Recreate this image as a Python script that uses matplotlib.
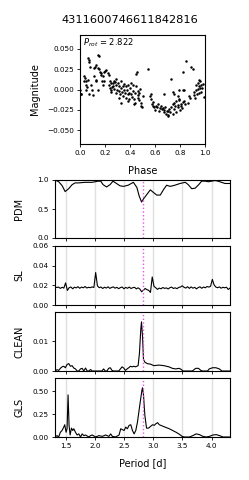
import numpy as np
import matplotlib
matplotlib.use("Agg")
import matplotlib.pyplot as plt

plt.rcParams['font.family'] = ['DejaVu Sans']

title = "4311600746611842816"
p_rot = 2.822

# ---- phase-folded light curve ----
phase = [0.00, 0.005, 0.01, 0.03, 0.035, 0.04, 0.045, 0.05, 0.055, 0.07, 0.06, 0.07, 0.075, 0.08, 0.09, 0.095, 0.10, 0.05, 0.065,
         0.11, 0.12, 0.13, 0.14, 0.155, 0.15, 0.16, 0.17, 0.165, 0.14, 0.125, 0.13, 0.115, 0.18, 0.185, 0.19, 0.20, 0.21, 0.195, 0.145, 0.175,
         0.22, 0.23, 0.235, 0.24, 0.25, 0.255, 0.26, 0.27, 0.28, 0.285, 0.29, 0.295, 0.30, 0.29, 0.27, 0.26, 0.24, 0.25, 0.245,
         0.31, 0.315, 0.32, 0.325, 0.33, 0.335, 0.34, 0.345, 0.35, 0.355, 0.36, 0.365, 0.37, 0.375, 0.38, 0.385, 0.39, 0.395, 0.40, 0.405, 0.31, 0.33, 0.38,
         0.41, 0.415, 0.42, 0.425, 0.43, 0.435, 0.44, 0.445, 0.45, 0.455, 0.46, 0.465, 0.47, 0.475, 0.48, 0.485, 0.49, 0.495, 0.54, 0.50, 0.44, 0.46,
         0.56, 0.565, 0.575, 0.58, 0.585, 0.59, 0.60, 0.61, 0.615, 0.62, 0.63, 0.64, 0.57,
         0.65, 0.655, 0.66, 0.67, 0.675, 0.68, 0.69, 0.695, 0.70, 0.705, 0.71, 0.67, 0.70,
         0.72, 0.725, 0.73, 0.74, 0.745, 0.75, 0.755, 0.76, 0.765, 0.77, 0.78, 0.785, 0.79, 0.795, 0.80, 0.74, 0.75, 0.78, 0.79,
         0.805, 0.81, 0.815, 0.82, 0.825, 0.83, 0.835, 0.84, 0.85, 0.86, 0.87, 0.88, 0.89, 0.90, 0.82,
         0.91, 0.915, 0.92, 0.925, 0.93, 0.935, 0.94, 0.945, 0.95, 0.955, 0.96, 0.965, 0.97, 0.975, 0.98, 0.99, 0.95, 0.96]
mag = [-0.001, -0.006, -0.006, 0.011, 0.016, 0.014, 0.010, 0.006, 0.003, -0.005, 0.039, 0.036, 0.034, 0.028, 0.005, 0.000, -0.007, -0.001, 0.012,
       0.027, 0.028, 0.030, 0.042, 0.041, 0.025, 0.022, 0.020, 0.018, 0.026, 0.010, 0.012, 0.016, 0.016, 0.006, 0.022, 0.023, 0.024, 0.011, 0.000, 0.010,
       0.020, 0.018, 0.005, 0.010, 0.008, 0.003, 0.004, 0.001, 0.009, -0.004, 0.006, 0.000, 0.008, 0.013, 0.010, 0.008, 0.002, 0.000, -0.003,
       -0.002, 0.004, -0.006, 0.002, 0.010, -0.003, 0.004, -0.008, 0.007, -0.001, -0.004, 0.004, -0.010, 0.000, 0.005, -0.006, -0.004, -0.012, 0.002, 0.008, -0.010, -0.017, -0.014,
       -0.006, -0.009, 0.006, -0.002, -0.012, -0.018, -0.004, 0.004, 0.019, 0.022, -0.010, -0.007, -0.013, -0.004, 0.001, -0.017, -0.020, -0.022, 0.025, -0.008, -0.016, -0.002,
       -0.008, -0.012, -0.018, -0.015, -0.020, -0.022, -0.025, -0.020, -0.022, -0.018, -0.027, -0.023, -0.005,
       -0.020, -0.024, -0.023, -0.025, -0.028, -0.022, -0.030, -0.026, -0.032, -0.027, -0.024, -0.005, -0.031,
       -0.028, 0.013, -0.022, -0.030, -0.018, -0.024, -0.016, -0.020, -0.028, -0.014, -0.022, -0.019, -0.013, -0.012, -0.025, -0.003, -0.005, -0.008, 0.000,
       -0.020, -0.018, -0.023, -0.015, 0.021, -0.001, -0.014, -0.018, 0.035, -0.017, -0.008, -0.011, 0.028, 0.025, 0.000,
       -0.007, -0.003, -0.010, 0.000, 0.005, -0.006, 0.008, 0.001, 0.012, 0.004, 0.010, 0.006, -0.003, 0.002, 0.007, -0.009, -0.004, 0.002]

# ---- PDM ----
pdm_period = [1.316, 1.38, 1.44, 1.49, 1.55, 1.61, 1.66, 1.72, 1.83, 1.95, 2.06, 2.10, 2.14, 2.20, 2.26, 2.31, 2.37, 2.43, 2.49,
              2.57, 2.66, 2.72, 2.76, 2.80, 2.83, 2.89, 2.95, 3.01, 3.06, 3.12, 3.18, 3.23, 3.29, 3.37, 3.46, 3.55, 3.60, 3.66,
              3.72, 3.78, 3.83, 3.89, 3.95, 4.00, 4.06, 4.11, 4.17, 4.23, 4.316]
pdm_theta = [1.00, 0.97, 0.90, 0.80, 0.85, 0.92, 0.95, 0.95, 0.96, 0.96, 0.98, 0.98, 0.92, 0.88, 0.92, 0.98, 0.94, 0.90, 0.89,
             0.91, 0.96, 0.87, 0.72, 0.62, 0.67, 0.75, 0.83, 0.78, 0.74, 0.74, 0.84, 0.91, 0.89, 0.91, 0.94, 0.96, 0.92, 0.85,
             0.86, 0.92, 0.98, 0.98, 0.97, 0.98, 0.99, 0.98, 0.96, 0.94, 0.94]

# ---- SL (string length) ----
sl_period = np.linspace(1.316, 4.316, 100)
sl_value = [0.0185, 0.0178, 0.0182, 0.0169, 0.0180, 0.0172, 0.0225, 0.0148, 0.0176, 0.0183,
            0.0165, 0.0181, 0.0174, 0.0186, 0.0170, 0.0182, 0.0175, 0.0188, 0.0173, 0.0180,
            0.0176, 0.0184, 0.0178, 0.0330, 0.0195, 0.0176, 0.0183, 0.0168, 0.0181, 0.0172,
            0.0185, 0.0169, 0.0178, 0.0184, 0.0171, 0.0180, 0.0166, 0.0177, 0.0183, 0.0165,
            0.0179, 0.0170, 0.0182, 0.0168, 0.0176, 0.0180, 0.0164, 0.0175, 0.0162, 0.0135,
            0.0150, 0.0168, 0.0156, 0.0149, 0.0128, 0.0285, 0.0190, 0.0175, 0.0159, 0.0172,
            0.0165, 0.0178, 0.0169, 0.0174, 0.0163, 0.0176, 0.0182, 0.0168, 0.0175, 0.0166,
            0.0179, 0.0183, 0.0195, 0.0180, 0.0172, 0.0186, 0.0169, 0.0184, 0.0171, 0.0180,
            0.0164, 0.0177, 0.0185, 0.0170, 0.0183, 0.0175, 0.0188, 0.0182, 0.0190, 0.0260,
            0.0205, 0.0182, 0.0176, 0.0184, 0.0171, 0.0180, 0.0175, 0.0181, 0.0158, 0.0172]

# ---- CLEAN ----
clean_period = [1.316, 1.351, 1.379, 1.408, 1.437, 1.466, 1.494, 1.523, 1.552, 1.580, 1.609, 1.638, 1.667, 1.695, 1.724, 1.753,
                1.782, 1.810, 1.839, 1.868, 1.897, 1.925, 1.954, 2.120, 2.149, 2.178, 2.207, 2.236, 2.264, 2.293, 2.322, 2.408,
                2.437, 2.466, 2.494, 2.523, 2.552, 2.580, 2.609, 2.638, 2.667, 2.695, 2.741, 2.764, 2.787, 2.799, 2.816, 2.833,
                2.856, 2.897, 2.954, 3.011, 3.098, 3.184, 3.270, 3.328, 3.385, 3.443, 3.483, 3.511, 3.672, 3.701, 3.730, 3.776,
                3.816, 3.845, 3.931, 3.960, 4.017, 4.075, 4.132, 4.178, 4.316]
clean_power = [0.0, 0.00045, 0.0002, 0.0009, 0.0014, 0.0016, 0.0011, 0.0022, 0.0025, 0.0016, 0.0018, 0.0010, 0.0007, 0.0, 0.0, 0.0007,
               0.0009, 0.0, 0.0010, 0.0, 0.0, 0.0005, 0.0, 0.0, 0.0007, 0.0, 0.0, 0.0009, 0.0011, 0.0002, 0.0, 0.0,
               0.0007, 0.0014, 0.0010, 0.0002, 0.0007, 0.0011, 0.0016, 0.0014, 0.0016, 0.0014, 0.0018, 0.0061, 0.0142, 0.0166, 0.0118, 0.0039,
               0.0030, 0.0025, 0.0023, 0.0018, 0.0020, 0.0018, 0.0014, 0.0009, 0.0007, 0.0009, 0.0005, 0.0, 0.0, 0.0005, 0.0009, 0.0009,
               0.0002, 0.0, 0.0, 0.0007, 0.0011, 0.0011, 0.0007, 0.0, 0.0]

# ---- GLS ----
gls_period = [1.316, 1.351, 1.379, 1.408, 1.437, 1.466, 1.483, 1.506, 1.523, 1.540, 1.557, 1.575, 1.598, 1.621, 1.638, 1.667,
              1.695, 1.724, 1.753, 1.782, 1.810, 1.839, 1.897, 1.925, 1.954, 2.011, 2.069, 2.126, 2.184, 2.241, 2.270, 2.299,
              2.356, 2.414, 2.443, 2.500, 2.529, 2.557, 2.586, 2.615, 2.644, 2.672, 2.701, 2.730, 2.770, 2.805, 2.816, 2.833,
              2.856, 2.885, 2.920, 2.960, 2.989, 3.017, 3.046, 3.075, 3.103, 3.161, 3.218, 3.276, 3.333, 3.391, 3.448, 3.494,
              3.534, 3.621, 3.678, 3.736, 3.793, 3.851, 3.908, 3.966, 4.023, 4.080, 4.138, 4.195, 4.316]
gls_power = [0.0, 0.015, 0.0, 0.052, 0.071, 0.108, 0.134, 0.052, 0.090, 0.460, 0.127, 0.022, 0.097, 0.071, 0.090, 0.052,
             0.022, 0.034, 0.0, 0.034, 0.015, 0.022, 0.0, 0.015, 0.022, 0.0, 0.015, 0.007, 0.022, 0.007, 0.034, 0.007,
             0.0, 0.022, 0.090, 0.071, 0.108, 0.090, 0.127, 0.134, 0.071, 0.034, 0.071, 0.164, 0.350, 0.507, 0.537, 0.460,
             0.239, 0.097, 0.097, 0.119, 0.134, 0.127, 0.145, 0.157, 0.134, 0.119, 0.104, 0.090, 0.071, 0.052, 0.030, 0.007,
             0.0, 0.0, 0.015, 0.034, 0.026, 0.007, 0.0, 0.007, 0.022, 0.026, 0.015, 0.0, 0.0]

W, H = 249, 480
fig = plt.figure(figsize=(W / 100, H / 100), dpi=100)

def rect(l, t, r, b):
    return [l / W, 1 - b / H, (r - l) / W, (b - t) / H]

tick_fs = 5.2
lab_fs = 7

# top panel
ax0 = fig.add_axes(rect(80, 35, 205, 144))
ax0.scatter(phase, mag, s=3.2, color='black', linewidths=0)
ax0.set_xlim(0, 1)
ax0.set_ylim(-0.067, 0.067)
ax0.set_xticks([0.0, 0.2, 0.4, 0.6, 0.8, 1.0])
ax0.set_yticks([-0.05, -0.025, 0.0, 0.025, 0.05])
ax0.set_yticklabels(['\u22120.050', '\u22120.025', '0.000', '0.025', '0.050'])
ax0.tick_params(labelsize=tick_fs, length=2.5, width=0.6, pad=2)
ax0.set_xlabel('Phase', fontsize=lab_fs)
ax0.xaxis.set_label_coords(0.5, -0.2)
ax0.set_ylabel('Magnitude', fontsize=lab_fs)
ax0.yaxis.set_label_coords(-0.32, 0.5)
ax0.text(0.02, 0.985, r'$P_{rot}$ = %.3f' % p_rot, transform=ax0.transAxes, va='top', ha='left', fontsize=6)

fig.text(130 / W, 1 - 20 / H, title, ha='center', va='center', fontsize=8.2)

panels = [
    ('PDM', pdm_period, pdm_theta, (180, 238), (0, 1.0), [0.0, 0.5, 1.0], ['0.0', '0.5', '1.0']),
    ('SL', sl_period, sl_value, (246, 305), (0, 0.06), [0.0, 0.02, 0.04, 0.06], ['0.00', '0.02', '0.04', '0.06']),
    ('CLEAN', clean_period, clean_power, (312, 371), (0, 1.2 * max(clean_power)), [0.0, 0.01], ['0.00', '0.01']),
    ('GLS', gls_period, gls_power, (378, 437), (0, 1.2 * max(gls_power)), [0.0, 0.25, 0.5], ['0.00', '0.25', '0.50']),
]
xt = [1.5, 2.0, 2.5, 3.0, 3.5, 4.0]
for i, (name, px, py, (t, b), yl, yt, ytl) in enumerate(panels):
    ax = fig.add_axes(rect(55, t, 230, b))
    ax.plot(px, py, color='black', lw=0.8)
    ax.axvline(p_rot, color='#f050f0', ls=':', lw=1.0)
    ax.set_xlim(1.316, 4.316)
    ax.set_ylim(*yl)
    ax.set_xticks(xt)
    ax.grid(True, axis='x', color='0.88', lw=1.0)
    ax.set_axisbelow(True)
    ax.set_yticks(yt)
    ax.set_yticklabels(ytl)
    ax.tick_params(labelsize=tick_fs, length=2.5, width=0.6, pad=2)
    ax.set_ylabel(name, fontsize=lab_fs)
    ax.yaxis.set_label_coords(-0.175, 0.5)
    if i < 3:
        ax.set_xticklabels([])
    else:
        ax.set_xticklabels([str(v) for v in xt])
        ax.set_xlabel('Period [d]', fontsize=lab_fs)
        ax.xaxis.set_label_coords(0.5, -0.36)

fig.savefig('out.png', dpi=100)
